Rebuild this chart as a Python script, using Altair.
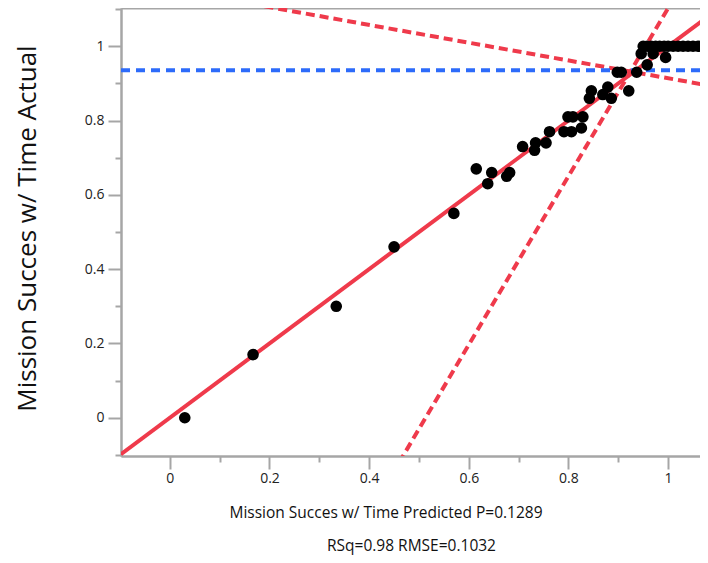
import altair as alt
import pandas as pd

# observed points (predicted, actual)
pred = [0.030, 0.167, 0.334, 0.450, 0.570, 0.615, 0.638, 0.646, 0.676, 0.682,
        0.708, 0.732, 0.734, 0.755, 0.762, 0.791, 0.799, 0.806, 0.809, 0.826,
        0.829, 0.842, 0.846, 0.869, 0.879, 0.886, 0.898, 0.906, 0.921, 0.937,
        0.946, 0.958, 0.970, 0.995,
        0.950, 0.958, 0.966, 0.975, 0.983, 0.992, 1.000, 1.010, 1.020, 1.030,
        1.040, 1.050, 1.060, 1.068]
actual = [0.00, 0.17, 0.30, 0.46, 0.55, 0.67, 0.63, 0.66, 0.65, 0.66,
          0.73, 0.72, 0.74, 0.74, 0.77, 0.77, 0.81, 0.77, 0.81, 0.78,
          0.81, 0.86, 0.88, 0.87, 0.89, 0.86, 0.93, 0.93, 0.88, 0.93,
          0.98, 0.95, 0.98, 0.97,
          1.00, 1.00, 1.00, 1.00, 1.00, 1.00, 1.00, 1.00, 1.00, 1.00,
          1.00, 1.00, 1.00, 1.00]

fit_x = [-0.098, 1.08]
fit_y = [-0.098, 1.08]
upper_x = [0.19, 1.09]
upper_y = [1.1077, 0.8924]
lower_x = [0.46, 0.75, 1.005]
lower_y = [-0.121, 0.537, 1.114]
mean_x = [-0.098, 1.08]
mean_y = [0.9355, 0.9355]

x_domain = [-0.098, 1.064]
y_domain = [-0.103, 1.103]
x_major = [0, 0.2, 0.4, 0.6, 0.8, 1]
x_minor = [-0.1, 0.1, 0.3, 0.5, 0.7, 0.9]
y_major = [0, 0.2, 0.4, 0.6, 0.8, 1]
y_minor = [-0.1, 0.1, 0.3, 0.5, 0.7, 0.9, 1.1]

x_title = "Mission Succes w/ Time Predicted P=0.1289"
x_title2 = "RSq=0.98 RMSE=0.1032"
y_title = "Mission Succes w/ Time Actual"

RED = "#EF3A4B"
BLUE = "#2D6BFA"
GRAY = "#A6A6A6"
FONT = "Open Sans"

pts = pd.DataFrame({"x": pred, "y": actual})
fit = pd.DataFrame({"x": fit_x, "y": fit_y})
upper = pd.DataFrame({"x": upper_x, "y": upper_y})
lower = pd.DataFrame({"x": lower_x, "y": lower_y})
mean = pd.DataFrame({"x": mean_x, "y": mean_y})

xs = alt.Scale(domain=x_domain, nice=False, zero=False)
ys = alt.Scale(domain=y_domain, nice=False, zero=False)

common = dict(domainColor=GRAY, domainWidth=2, tickColor=GRAY, tickWidth=2,
              grid=False, labelFont=FONT, titleFont=FONT)

x_axis_major = alt.Axis(orient="bottom", values=x_major, tickSize=13, format="~g",
                        labelFontSize=14, labelColor="#222222", labelPadding=2,
                        title=x_title, titleFontSize=15.5, titleFontWeight="normal",
                        titleColor="#111111", titleX=264.5, titleY=61,
                        titleBaseline="alphabetic", titleAlign="center", **common)
x_axis_minor = alt.Axis(orient="bottom", values=x_minor, tickSize=6, labels=False,
                        title=None, **common)
x_axis_top = alt.Axis(orient="top", ticks=False, labels=False, title=None, **common)
x_axis_title2 = alt.Axis(orient="bottom", domain=False, ticks=False, labels=False,
                         title=x_title2, titleFontSize=15.5, titleFontWeight="normal",
                         titleColor="#111111", titleX=290, titleY=94,
                         titleBaseline="alphabetic", titleAlign="center",
                         grid=False, titleFont=FONT)

y_axis_major = alt.Axis(orient="left", values=y_major, tickSize=13, format="~g",
                        labelFontSize=14, labelColor="#222222", labelPadding=4,
                        title=y_title, titleFontSize=26, titleFontWeight="normal",
                        titleColor="#111111", titleX=-86, titleY=220,
                        titleAngle=270, titleBaseline="alphabetic",
                        titleAlign="center", **common)
y_axis_minor = alt.Axis(orient="left", values=y_minor, tickSize=6, labels=False,
                        title=None, **common)

fit_layer = alt.Chart(fit).mark_line(color=RED, strokeWidth=4, clip=True).encode(
    x=alt.X("x:Q", scale=xs, axis=x_axis_major),
    y=alt.Y("y:Q", scale=ys, axis=y_axis_major),
)
upper_layer = alt.Chart(upper).mark_line(color=RED, strokeWidth=4, strokeDash=[9, 5],
                                         clip=True).encode(
    x=alt.X("x:Q", scale=xs, axis=x_axis_minor),
    y=alt.Y("y:Q", scale=ys, axis=y_axis_minor),
)
lower_layer = alt.Chart(lower).mark_line(color=RED, strokeWidth=4, strokeDash=[9, 5],
                                         clip=True).encode(
    x=alt.X("x:Q", scale=xs, axis=x_axis_top),
    y=alt.Y("y:Q", scale=ys, axis=None),
)
mean_layer = alt.Chart(mean).mark_line(color=BLUE, strokeWidth=4, strokeDash=[9, 6],
                                       clip=True).encode(
    x=alt.X("x:Q", scale=xs, axis=x_axis_title2),
    y=alt.Y("y:Q", scale=ys, axis=None),
)
pt_layer = alt.Chart(pts).mark_circle(color="black", opacity=1, size=135).encode(
    x=alt.X("x:Q", scale=xs, axis=None),
    y=alt.Y("y:Q", scale=ys, axis=None),
)

chart = alt.layer(fit_layer, upper_layer, lower_layer, mean_layer, pt_layer).resolve_axis(
    x="independent", y="independent"
).properties(
    width=579, height=448,
    autosize=alt.AutoSizeParams(type="none"),
    padding={"left": 113, "top": 0, "right": 0, "bottom": 99},
    background="white",
).configure_view(stroke=None)

chart.save("out.html", embed_options={"renderer": "svg", "actions": False})
